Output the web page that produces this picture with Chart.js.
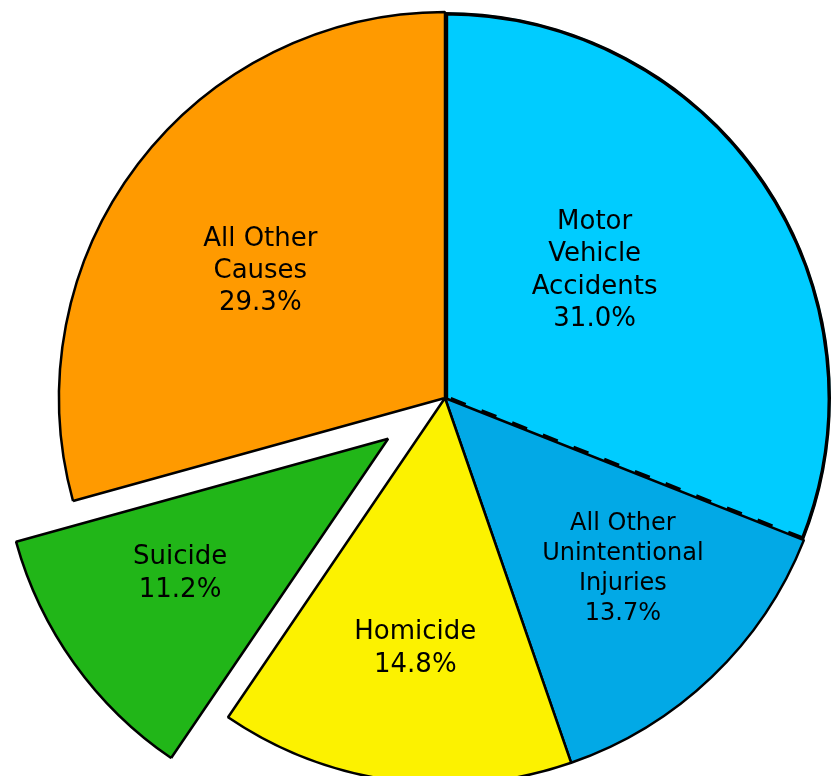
<!DOCTYPE html>
<html>
<head>
<meta charset="utf-8">
<script src="https://cdn.jsdelivr.net/npm/chart.js@4.4.1/dist/chart.umd.min.js"></script>
<style>
  html, body { margin: 0; padding: 0; background: #fff; }
  #wrap { width: 839px; height: 776px; }
</style>
</head>
<body>
<div id="wrap"><canvas id="pieChart"></canvas></div>
<script>
// data
const categories = [
  ["Motor", "Vehicle", "Accidents"],
  ["All Other", "Unintentional", "Injuries"],
  ["Homicide"],
  ["Suicide"],
  ["All Other", "Causes"]
];
const shares = [31.0, 13.7, 14.8, 11.2, 29.3];

// styling
const sliceColors = ["#00CCFF", "#02A9E6", "#FCF200", "#21B618", "#FF9A00"];
const explode = [0, 0, 0, 280, 0];        // chart.js offset (moves slice by offset / 4)
const pieRadius = 386;
const labelDist = [0.509, 0.638, 0.654, 0.643, 0.581];
const labelTurn = [-6.2, -2.5, -0.8, 2.6, -2.7];   // degrees from the slice middle
const labelSize = [26, 24, 26, 26, 26];
const labelLead = [32.5, 30, 32.5, 33, 32];

// dashed edge between the first two slices: solid outer arc, dashed lower edge, solid top edge
const arcLen = (pieRadius - 0.33) * 2 * Math.PI * shares[0] / 100;
const mvDash = [arcLen, 1];
for (let k = 0; k < 11; k++) mvDash.push(16, 17);
mvDash.push(16, 5, 600, 10);

// chart.js grows an offset slice a little; pull it back to the normal radius
const explodeFix = {
  id: "explodeFix",
  afterDatasetUpdate(chart, args) {
    const meta = chart.getDatasetMeta(args.index);
    meta.data.forEach((arc, i) => {
      const off = explode[i] / 4;
      if (!off) return;
      const ro = off * (1 - Math.sin(Math.min(Math.PI, arc.circumference)));
      const R = arc.outerRadius;
      arc.outerRadius = R - ro;
      const da = ro / Math.PI / R / 2;
      arc.startAngle -= da;
      arc.endAngle += da;
    });
  }
};

// text inside each slice
const sliceLabels = {
  id: "sliceLabels",
  afterDatasetsDraw(chart) {
    const ctx = chart.ctx;
    const meta = chart.getDatasetMeta(0);
    const total = shares.reduce((a, b) => a + b, 0);
    ctx.save();
    ctx.fillStyle = "#000";
    ctx.textAlign = "center";
    ctx.textBaseline = "middle";
    meta.data.forEach((arc, i) => {
      const mid = (arc.startAngle + arc.endAngle) / 2;
      const off = explode[i] / 4;
      const a = mid + labelTurn[i] * Math.PI / 180;
      const x = arc.x + Math.cos(mid) * off + Math.cos(a) * pieRadius * labelDist[i];
      const y = arc.y + Math.sin(mid) * off + Math.sin(a) * pieRadius * labelDist[i];
      const lines = categories[i].concat((shares[i] / total * 100).toFixed(1) + "%");
      ctx.font = labelSize[i] + "px 'DejaVu Sans', Verdana, sans-serif";
      lines.forEach((t, k) => {
        ctx.fillText(t, x, y + (k - (lines.length - 1) / 2) * labelLead[i]);
      });
    });
    ctx.restore();
  }
};

new Chart(document.getElementById("pieChart"), {
  type: "pie",
  data: {
    labels: categories.map(c => c.join(" ")),
    datasets: [{
      data: shares,
      backgroundColor: sliceColors,
      borderColor: "#000",
      borderWidth: [3.2, 2.5, 2.5, 2.5, 2.5],
      borderAlign: ["inner", "center", "center", "center", "center"],
      borderDash: (c) => c.dataIndex === 0 ? mvDash : [],
      offset: explode
    }]
  },
  options: {
    responsive: true,
    maintainAspectRatio: false,
    animation: false,
    events: [],
    radius: pieRadius,
    layout: { padding: { left: 51, top: 20, right: 0, bottom: 0 } },
    plugins: {
      legend: { display: false },
      tooltip: { enabled: false }
    }
  },
  plugins: [explodeFix, sliceLabels]
});
</script>
</body>
</html>
